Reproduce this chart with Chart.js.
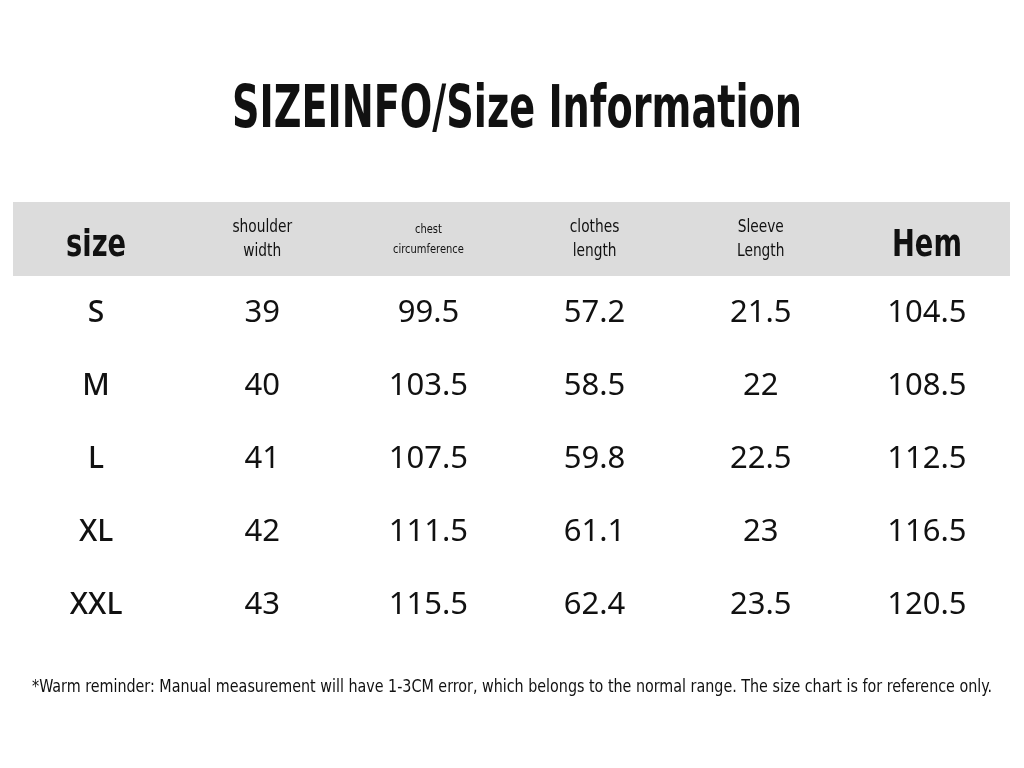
<!DOCTYPE html>
<html>
<head>
<meta charset="utf-8">
<script src="https://cdn.jsdelivr.net/npm/chart.js@4"></script>
<style>
  html, body { margin: 0; padding: 0; background: #fff; }
  #wrap { width: 1024px; height: 768px; }
</style>
</head>
<body>
<div id="wrap"><canvas id="sizeChart"></canvas></div>
<script>
// 表格数据
const columns = ['size', 'shoulder\nwidth', 'chest\ncircumference', 'clothes\nlength', 'Sleeve\nLength', 'Hem'];
const sizes = ['S', 'M', 'L', 'XL', 'XXL'];
const shoulderWidth = ['39', '40', '41', '42', '43'];
const chest = ['99.5', '103.5', '107.5', '111.5', '115.5'];
const clothesLength = ['57.2', '58.5', '59.8', '61.1', '62.4'];
const sleeveLength = ['21.5', '22', '22.5', '23', '23.5'];
const hem = ['104.5', '108.5', '112.5', '116.5', '120.5'];
const titleText = 'SIZEINFO/Size Information';
const noteText = '*Warm reminder: Manual measurement will have 1-3CM error, which belongs to the normal range. The size chart is for reference only.';

const rowLabels = ['header'].concat(sizes);
const tableCols = [sizes, shoulderWidth, chest, clothesLength, sleeveLength, hem];
const NARROW = '"Liberation Sans Narrow", "DejaVu Sans Condensed", "Roboto Condensed", sans-serif';

// 每个单元格一个点，文字在点的位置绘制
const cells = [];
columns.forEach((c, ci) => cells.push({ x: c, y: 'header', text: c, head: true, col: ci }));
sizes.forEach((s, ri) => {
    tableCols.forEach((arr, ci) => cells.push({ x: columns[ci], y: s, text: arr[ri], head: false, col: ci }));
});

// 横向压缩绘制文字
function squeezeText(ctx, text, x, y, squeeze) {
    ctx.save();
    ctx.translate(x, y);
    ctx.scale(squeeze, 1);
    ctx.fillText(text, 0, 0);
    ctx.restore();
}

const tablePlugin = {
    id: 'tablePlugin',
    beforeDatasetsDraw(chart) {
        const { ctx, chartArea, scales } = chart;
        const y0 = scales.y.getPixelForValue(0);
        const step = scales.y.getPixelForValue(1) - y0;
        ctx.save();
        ctx.fillStyle = '#dcdcdc';
        ctx.fillRect(chartArea.left, y0 - step / 2 - 6, chartArea.right - chartArea.left, step + 1);
        ctx.restore();
    },
    afterDatasetsDraw(chart) {
        const { ctx } = chart;
        const meta = chart.getDatasetMeta(0);
        ctx.save();
        ctx.fillStyle = '#111';
        ctx.textAlign = 'center';
        ctx.textBaseline = 'middle';
        meta.data.forEach((pt, i) => {
            const c = cells[i];
            if (c.head) {
                if (c.col === 0 || c.col === 5) {
                    ctx.font = 'bold 38px ' + NARROW;
                    squeezeText(ctx, c.text, pt.x, pt.y + 2, 0.8);
                } else {
                    ctx.font = (c.col === 2 ? '13px ' : '18px ') + NARROW;
                    const lines = c.text.split('\n');
                    const lh = c.col === 2 ? 20 : 24;
                    lines.forEach((l, k) => squeezeText(ctx, l, pt.x, pt.y - lh / 2 + k * lh - 5, 0.85));
                }
            } else {
                ctx.font = (c.col === 0 ? '500 30px ' : '31px ') + '"Noto Sans", "Open Sans", sans-serif';
                ctx.fillText(c.text, pt.x, pt.y - 4);
            }
        });
        // 标题与备注
        ctx.font = 'bold 58px ' + NARROW;
        squeezeText(ctx, titleText, 517, 112, 570 / ctx.measureText(titleText).width);
        ctx.font = '17px ' + NARROW;
        squeezeText(ctx, noteText, 512, 688, 960 / ctx.measureText(noteText).width);
        ctx.restore();
    }
};

new Chart(document.getElementById('sizeChart').getContext('2d'), {
    type: 'scatter',
    data: {
        datasets: [{
            data: cells.map(c => ({ x: c.x, y: c.y })),
            pointRadius: 0
        }]
    },
    options: {
        responsive: true,
        maintainAspectRatio: false,
        animation: false,
        layout: { padding: { left: 13, right: 14, top: 208, bottom: 122 } },
        plugins: { legend: { display: false }, tooltip: { enabled: false } },
        scales: {
            x: { type: 'category', labels: columns, offset: true, display: false },
            y: { type: 'category', labels: rowLabels, offset: true, display: false }
        }
    },
    plugins: [tablePlugin]
});
</script>
</body>
</html>
